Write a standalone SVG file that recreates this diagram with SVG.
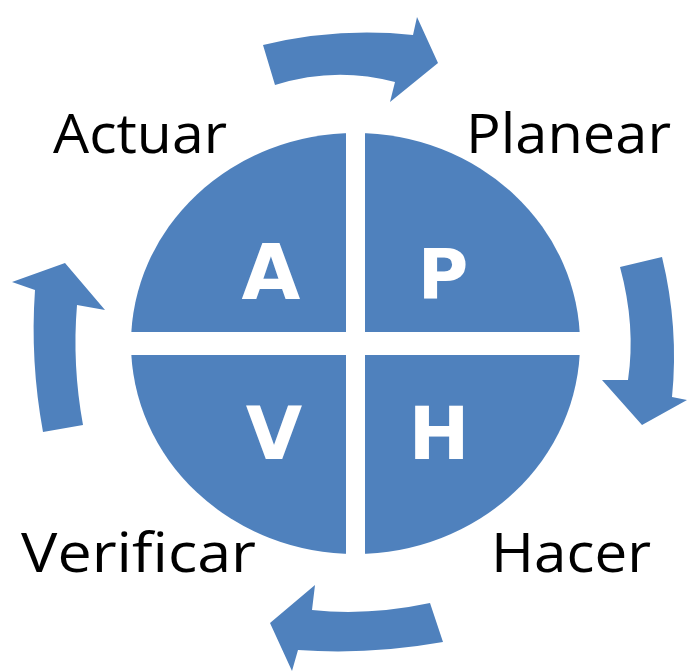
<svg xmlns="http://www.w3.org/2000/svg" width="687" height="671" viewBox="0 0 687 671">
<style>
.q{fill:#4F81BD}
.ar{fill:#4F81BD}
.l{font-family:"DejaVu Sans","Liberation Sans",sans-serif;font-weight:bold;fill:#fff;text-anchor:middle}
.t{font-family:"Open Sans","Noto Sans","Liberation Sans",sans-serif;font-size:54px;fill:#000}
</style>
<defs>
<clipPath id="ell"><ellipse cx="355.5" cy="343.5" rx="224.5" ry="210.5"/></clipPath>
</defs>
<rect width="687" height="671" fill="#fff"/>
<g id="connectors">
<path class="ar" d="M263,45 Q338,27 413,35 L417,17 L438,63 L390,102 L395,82 Q335,66 275,85 Z"/>
<path class="ar" d="M620,267 L662,257 Q679,327 672,397 L687,400 L642,425 L602,380 L628,380 Q636,326 620,267 Z"/>
<path class="ar" d="M430,603 L443,642 Q370,655 298,650 L292,671 L270,623 L315,585 L312,610 Q369,616 430,603 Z"/>
<path class="ar" d="M43,432 Q30,361 35,290 L12,282 L65,263 L105,310 L77,305 Q72,365 83,425 Z"/>
</g>
<g id="quad-A">
<rect class="q" x="131" y="133" width="215" height="199" clip-path="url(#ell)"/>
<text class="l" x="271" y="299" font-size="76">A</text>
</g>
<g id="quad-P">
<rect class="q" x="365" y="133" width="215" height="199" clip-path="url(#ell)"/>
<text class="l" x="443" y="299" font-size="69">P</text>
</g>
<g id="quad-V">
<rect class="q" x="131" y="355" width="215" height="199" clip-path="url(#ell)"/>
<text class="l" x="274" y="459" font-size="73">V</text>
</g>
<g id="quad-H">
<rect class="q" x="365" y="355" width="215" height="199" clip-path="url(#ell)"/>
<text class="l" x="439" y="459" font-size="73">H</text>
</g>
<g id="label-actuar"><text class="t" x="53" y="153" textLength="174" lengthAdjust="spacingAndGlyphs">Actuar</text></g>
<g id="label-planear"><text class="t" x="466" y="153" textLength="205" lengthAdjust="spacingAndGlyphs">Planear</text></g>
<g id="label-verificar"><text class="t" x="21" y="572" textLength="235" lengthAdjust="spacingAndGlyphs">Verificar</text></g>
<g id="label-hacer"><text class="t" x="491" y="572" textLength="160" lengthAdjust="spacingAndGlyphs">Hacer</text></g>
</svg>
